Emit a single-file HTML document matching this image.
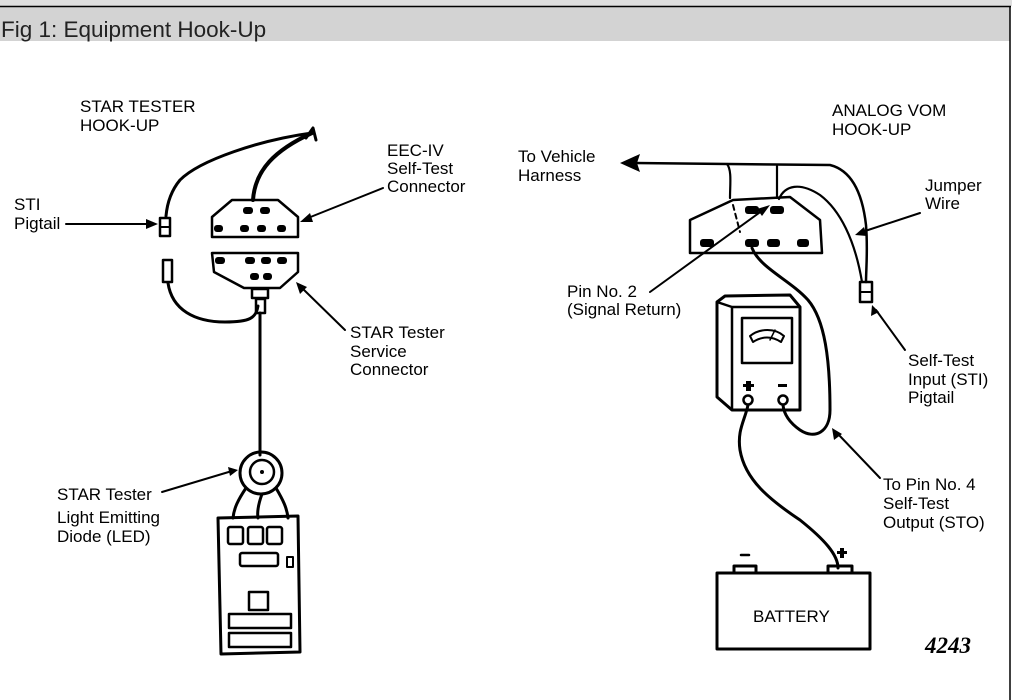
<!DOCTYPE html>
<html><head><style>
html,body{margin:0;padding:0;background:#fff;}
body{width:1012px;height:700px;position:relative;overflow:hidden;font-family:"Liberation Sans",sans-serif;}
</style></head><body>
<svg width="1012" height="700" viewBox="0 0 1012 700" xmlns="http://www.w3.org/2000/svg" style="position:absolute;left:0;top:0">
<rect x="0" y="0" width="1012" height="6" fill="#dedede"/>
<rect x="0" y="7" width="1010" height="34" fill="#d3d3d3"/>
<line x1="0" y1="6.5" x2="1011" y2="6.5" stroke="#000" stroke-width="1.5"/>
<line x1="1010" y1="6" x2="1010" y2="700" stroke="#000" stroke-width="1.5"/>
<text x="1" y="37" font-size="22.5" fill="#222">Fig 1: Equipment Hook-Up</text>

<g fill="none" stroke="#000" stroke-linecap="round" stroke-linejoin="round">
<path d="M253 200 C255 170 275 150 312 133" stroke-width="4"/>
<path d="M312 133 C260 140 200 160 180 180 C170 192 167 205 166 216" stroke-width="3"/>
<path d="M306 138 L313 128 L316 140" stroke-width="3"/>
<path d="M232 200 L278 200 L298 217 L298 237 L212 237 L212 217 Z" stroke-width="2.5"/>
<path d="M212 253 L298 253 L298 272 L280 288 L244 288 L214 272 Z" stroke-width="2.5"/>
<rect x="252" y="289" width="16" height="9" stroke-width="2.5"/>
<rect x="256" y="299" width="9" height="14" stroke-width="2.5"/>
<line x1="260" y1="313" x2="260" y2="455" stroke-width="3"/>
<rect x="160" y="218" width="10" height="18" stroke-width="2.5"/>
<line x1="160" y1="227" x2="170" y2="227" stroke-width="2"/>
<rect x="163" y="260" width="9" height="22" stroke-width="2.5"/>
<path d="M168 283 C172 310 195 322 225 322 C250 322 256 318 258 306" stroke-width="3"/>
<circle cx="261" cy="473" r="21" stroke-width="3"/>
<circle cx="262" cy="472" r="12" stroke-width="2.5"/>
<path d="M246 488 C238 500 234 508 233 518 M262 494 C258 505 257 512 258 518 M276 488 C283 500 287 508 288 518" stroke-width="3"/>
<path d="M218 518 L298 516 L300 652 L221 654 Z" stroke-width="3"/>
<rect x="228" y="527" width="15" height="17" rx="2" stroke-width="2.5"/>
<rect x="248" y="527" width="15" height="17" rx="2" stroke-width="2.5"/>
<rect x="267" y="527" width="15" height="17" rx="2" stroke-width="2.5"/>
<rect x="240" y="553" width="38" height="13" rx="2" stroke-width="2.5"/>
<rect x="287" y="557" width="6" height="10" stroke-width="2"/>
<rect x="249" y="592" width="19" height="18" stroke-width="2.5"/>
<rect x="229" y="614" width="62" height="14" stroke-width="2.5"/>
<rect x="229" y="633" width="62" height="14" stroke-width="2.5"/>

<path d="M630 163 L830 165 C850 170 862 190 866 225 C868 250 866 270 866 282" stroke-width="2.5"/>
<path d="M727 164 C732 170 730 185 730 198 M777 166 L777 198" stroke-width="2.2"/>
<path d="M690 253 L690 220 L733 200 L790 197 L820 220 L822 253 Z" stroke-width="2.5"/>
<line x1="733" y1="205" x2="740" y2="232" stroke-width="2" stroke-dasharray="5,4"/>
<path d="M779 199 C785 185 800 182 820 195 C840 210 855 240 862 282" stroke-width="2.2"/>
<rect x="860" y="282" width="12" height="20" stroke-width="2.5"/>
<line x1="860" y1="292" x2="872" y2="292" stroke-width="2"/>
<path d="M752 248 C760 268 790 280 808 300 C825 320 830 360 830 410 C830 432 815 440 800 430 C790 423 784 415 783 405" stroke-width="3"/>
<path d="M717 302 L725 296 L790 295 L800 307 L800 410 L732 410 L717 397 Z" stroke-width="3"/>
<path d="M717 302 L732 307 L800 307 M732 307 L732 410" stroke-width="2.5"/>
<rect x="742" y="318" width="50" height="45" stroke-width="2.5"/>
<path d="M750 336 C760 328 775 328 784 336 L781 342 C772 336 762 336 753 342 Z" stroke-width="2"/>
<line x1="770" y1="340" x2="775" y2="330" stroke-width="1.5"/>
<circle cx="748" cy="400" r="4.5" stroke-width="2.5"/>
<circle cx="783" cy="400" r="4.5" stroke-width="2.5"/>
<path d="M748 405 C745 420 737 430 740 450 C745 480 770 500 800 520 C825 540 838 555 838 568" stroke-width="3"/>
<rect x="717" y="573" width="153" height="76" stroke-width="3"/>
<path d="M734 573 L734 566 L756 566 L756 573 M828 573 L828 566 L852 566 L852 573" stroke-width="3"/>
<line x1="741" y1="555" x2="749" y2="555" stroke-width="2.5"/>
<g stroke-width="2">
<line x1="66" y1="224" x2="152" y2="224"/>
<line x1="383" y1="188" x2="308" y2="218"/>
<line x1="345" y1="330" x2="302" y2="288"/>
<line x1="162" y1="492" x2="232" y2="471"/>
<line x1="650" y1="292" x2="763" y2="210"/>
<line x1="920" y1="213" x2="862" y2="232"/>
<line x1="905" y1="350" x2="876" y2="310"/>
<line x1="880" y1="478" x2="838" y2="434"/>
</g>
</g>
<g fill="#000">
<rect x="243" y="207" width="10" height="7" rx="3"/><rect x="260" y="207" width="10" height="7" rx="3"/>
<rect x="214" y="225" width="9" height="7" rx="3"/><rect x="240" y="225" width="9" height="7" rx="3"/><rect x="257" y="225" width="9" height="7" rx="3"/><rect x="277" y="225" width="9" height="7" rx="3"/>
<rect x="215" y="257" width="10" height="7" rx="3"/><rect x="245" y="257" width="10" height="7" rx="3"/><rect x="261" y="257" width="10" height="7" rx="3"/><rect x="277" y="257" width="10" height="7" rx="3"/>
<rect x="250" y="273" width="9" height="7" rx="3"/><rect x="263" y="273" width="9" height="7" rx="3"/>
<rect x="745" y="206" width="14" height="8" rx="3"/><rect x="770" y="206" width="14" height="8" rx="3"/>
<rect x="700" y="239" width="14" height="8" rx="3"/><rect x="745" y="239" width="14" height="8" rx="3"/><rect x="767" y="239" width="13" height="8" rx="3"/><rect x="797" y="239" width="12" height="8" rx="3"/>
<circle cx="262" cy="472" r="2"/>
<polygon points="620,163 640,154 637,163 640,172"/>
<polygon points="158,224 146,219 146,229"/>
<polygon points="300,222 310,213 313,222"/>
<polygon points="296,282 300,294 307,287"/>
<polygon points="238,470 228,467 230,476"/>
<polygon points="770,205 757,209 762,216"/>
<polygon points="855,235 864,227 867,236"/>
<polygon points="872,305 871,316 879,312"/>
<polygon points="832,428 834,440 842,434"/>
<rect x="746" y="381" width="5" height="10"/><rect x="743" y="384" width="11" height="3"/>
<rect x="778" y="384" width="9" height="3"/>
<rect x="840" y="548" width="4" height="10"/><rect x="837" y="551" width="10" height="3"/>
</g>
<g font-size="17" fill="#000">
<text x="80" y="112">STAR TESTER</text><text x="80" y="131">HOOK-UP</text>
<text x="14" y="210">STI</text><text x="14" y="229">Pigtail</text>
<text x="387" y="156">EEC-IV</text><text x="387" y="174">Self-Test</text><text x="387" y="192">Connector</text>
<text x="350" y="338">STAR Tester</text><text x="350" y="357">Service</text><text x="350" y="375">Connector</text>
<text x="57" y="500">STAR Tester</text><text x="57" y="523">Light Emitting</text><text x="57" y="542">Diode (LED)</text>
<text x="832" y="116">ANALOG VOM</text><text x="832" y="135">HOOK-UP</text>
<text x="518" y="162">To Vehicle</text><text x="518" y="181">Harness</text>
<text x="925" y="191">Jumper</text><text x="925" y="209">Wire</text>
<text x="567" y="297">Pin No. 2</text><text x="567" y="315">(Signal Return)</text>
<text x="908" y="366">Self-Test</text><text x="908" y="385">Input (STI)</text><text x="908" y="403">Pigtail</text>
<text x="883" y="490">To Pin No. 4</text><text x="883" y="509">Self-Test</text><text x="883" y="528">Output (STO)</text>
<text x="753" y="622">BATTERY</text>
</g>
<text x="925" y="653" font-family="Liberation Serif,serif" font-style="italic" font-weight="bold" font-size="23">4243</text>
</svg>
</body></html>
